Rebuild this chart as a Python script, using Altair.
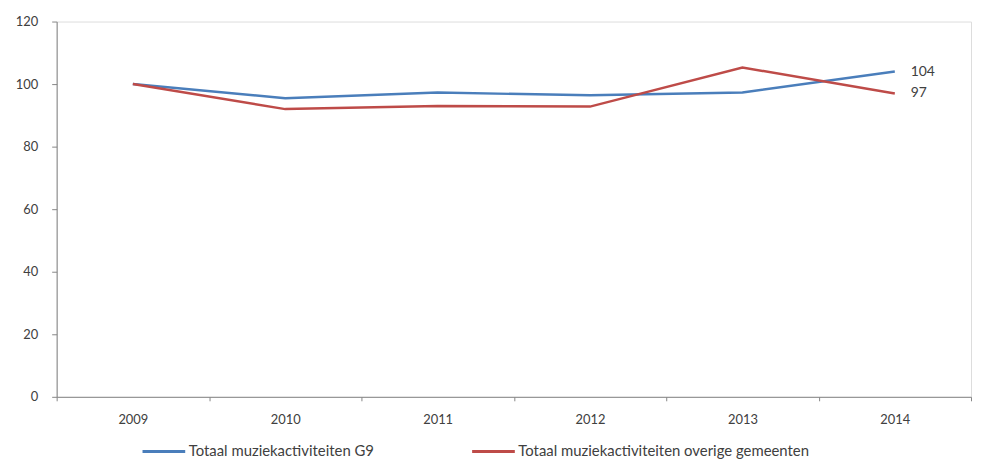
import altair as alt
import pandas as pd

years = ["2009", "2010", "2011", "2012", "2013", "2014"]
g9 = [100, 95.5, 97.3, 96.4, 97.3, 104]
overige = [100, 92.0, 93.0, 92.8, 105.3, 97]
series_names = ["Totaal muziekactiviteiten G9", "Totaal muziekactiviteiten overige gemeenten"]
series_colors = ["#4A7EBB", "#BE4B48"]
y_ticks = [0, 20, 40, 60, 80, 100, 120]

rows = []
for yr, v in zip(years, g9):
    rows.append({"year": yr, "value": v, "series": series_names[0]})
for yr, v in zip(years, overige):
    rows.append({"year": yr, "value": v, "series": series_names[1]})
df = pd.DataFrame(rows)

FONT = "Lato"
AX = "#868686"
TXT = "#404040"

x_enc = alt.X(
    "year:O",
    sort=years,
    bandPosition=0.5,
    scale=alt.Scale(type="band", paddingInner=0, paddingOuter=0),
    axis=alt.Axis(
        title=None, labelAngle=0, tickBand="extent", tickSize=4,
        labelPadding=13, labelFontSize=13, labelColor=TXT, labelFont=FONT,
        domainColor=AX, tickColor=AX, grid=False,
    ),
)
y_enc = alt.Y(
    "value:Q",
    scale=alt.Scale(domain=[0, 120], nice=False, zero=True),
    axis=alt.Axis(
        title=None, values=y_ticks, tickSize=5, labelPadding=14,
        labelFontSize=13, labelColor=TXT, labelFont=FONT,
        domainColor=AX, tickColor=AX, grid=False,
    ),
)

lines = alt.Chart(df).mark_line(strokeWidth=2.5).encode(
    x=x_enc,
    y=y_enc,
    color=alt.Color(
        "series:N",
        scale=alt.Scale(domain=series_names, range=series_colors),
        legend=alt.Legend(
            title=None, orient="none", legendX=85, legendY=410,
            direction="horizontal", symbolType="stroke", symbolSize=1849,
            symbolStrokeWidth=3, labelFontSize=15, labelColor=TXT,
            labelFont=FONT, columnPadding=92, labelOffset=2, labelLimit=0,
        ),
    ),
)

labels = alt.Chart(df).transform_filter(alt.datum.year == years[-1]).mark_text(
    align="left", baseline="middle", dx=16, fontSize=14, color=TXT, font=FONT
).encode(
    x=x_enc,
    y=y_enc,
    text=alt.Text("value:Q", format=".0f"),
)

chart = alt.layer(lines, labels).properties(
    width=921,
    height=378,
    padding={"left": 49, "top": 12, "right": 2, "bottom": 64},
    autosize=alt.AutoSizeParams(type="none"),
).configure_view(stroke=None).configure(background="white")

chart.save("out.html", embed_options={"renderer": "svg", "actions": False})
